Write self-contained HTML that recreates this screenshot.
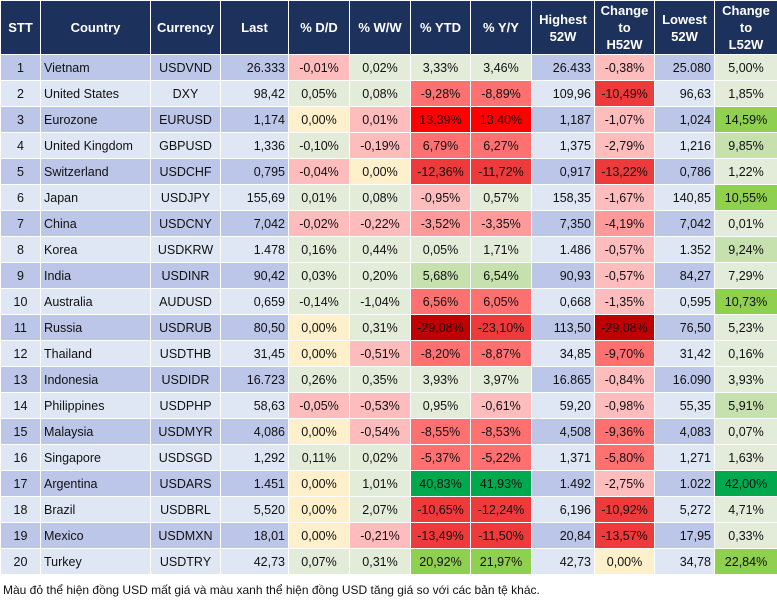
<!DOCTYPE html>
<html><head><meta charset="utf-8"><style>
body{margin:0;background:#fff;width:777px;height:602px;overflow:hidden;font-family:"Liberation Sans",Arial,sans-serif;}
table{border-collapse:collapse;table-layout:fixed;width:777px;position:absolute;left:0;top:0;}
td,th{border:1px solid #fff;font-size:12.5px;color:#111;padding:0 3px;height:25px;white-space:nowrap;overflow:hidden;}
th{background:#1c315c;color:#fff;font-weight:bold;height:53px;line-height:17px;text-align:center;font-size:13px;}
tr:nth-child(even) td{background:#bcc6e8;}
tr:nth-child(odd) td{background:#dfe7f5;}
td.c{text-align:center}td.r{text-align:right}td.l{text-align:left}
tr td.n{background:#e3ebd9 !important;text-align:center}
tr td.y{background:#fff0cc !important;text-align:center}
tr td.p{background:#ffbcbc !important;text-align:center}
tr td.p2{background:#ff9a9a !important;text-align:center}
tr td.r2{background:#ff7070 !important;text-align:center}
tr td.r3{background:#ee3a3a !important;text-align:center}
tr td.rb{background:#fe0000 !important;text-align:center}
tr td.rd{background:#c00000 !important;text-align:center}
tr td.g1{background:#c6e0ae !important;text-align:center}
tr td.g3{background:#8fd04e !important;text-align:center}
tr td.g4{background:#00a84e !important;text-align:center}
.foot{position:absolute;left:3px;top:583px;font-size:12px;color:#111;}
</style></head><body>
<table>
<colgroup><col style="width:40px"><col style="width:110px"><col style="width:70px"><col style="width:68px"><col style="width:61px"><col style="width:61px"><col style="width:60px"><col style="width:61px"><col style="width:63px"><col style="width:60px"><col style="width:60px"><col style="width:63px"></colgroup>
<tr><th>STT</th><th>Country</th><th>Currency</th><th>Last</th><th>% D/D</th><th>% W/W</th><th>% YTD</th><th>% Y/Y</th><th>Highest<br>52W</th><th>Change<br>to<br>H52W</th><th>Lowest<br>52W</th><th>Change<br>to<br>L52W</th></tr>
<tr><td class="c">1</td><td class="l">Vietnam</td><td class="c">USDVND</td><td class="r">26.333</td><td class="p">-0,01%</td><td class="n">0,02%</td><td class="n">3,33%</td><td class="n">3,46%</td><td class="r">26.433</td><td class="p">-0,38%</td><td class="r">25.080</td><td class="n">5,00%</td></tr>
<tr><td class="c">2</td><td class="l">United States</td><td class="c">DXY</td><td class="r">98,42</td><td class="n">0,05%</td><td class="n">0,08%</td><td class="r2">-9,28%</td><td class="r2">-8,89%</td><td class="r">109,96</td><td class="r3">-10,49%</td><td class="r">96,63</td><td class="n">1,85%</td></tr>
<tr><td class="c">3</td><td class="l">Eurozone</td><td class="c">EURUSD</td><td class="r">1,174</td><td class="y">0,00%</td><td class="p">0,01%</td><td class="rb">13,39%</td><td class="rb">13,40%</td><td class="r">1,187</td><td class="p">-1,07%</td><td class="r">1,024</td><td class="g3">14,59%</td></tr>
<tr><td class="c">4</td><td class="l">United Kingdom</td><td class="c">GBPUSD</td><td class="r">1,336</td><td class="n">-0,10%</td><td class="p">-0,19%</td><td class="r2">6,79%</td><td class="r2">6,27%</td><td class="r">1,375</td><td class="p">-2,79%</td><td class="r">1,216</td><td class="g1">9,85%</td></tr>
<tr><td class="c">5</td><td class="l">Switzerland</td><td class="c">USDCHF</td><td class="r">0,795</td><td class="p">-0,04%</td><td class="y">0,00%</td><td class="r3">-12,36%</td><td class="r3">-11,72%</td><td class="r">0,917</td><td class="r3">-13,22%</td><td class="r">0,786</td><td class="n">1,22%</td></tr>
<tr><td class="c">6</td><td class="l">Japan</td><td class="c">USDJPY</td><td class="r">155,69</td><td class="n">0,01%</td><td class="n">0,08%</td><td class="p">-0,95%</td><td class="n">0,57%</td><td class="r">158,35</td><td class="p">-1,67%</td><td class="r">140,85</td><td class="g3">10,55%</td></tr>
<tr><td class="c">7</td><td class="l">China</td><td class="c">USDCNY</td><td class="r">7,042</td><td class="p">-0,02%</td><td class="p">-0,22%</td><td class="p2">-3,52%</td><td class="p2">-3,35%</td><td class="r">7,350</td><td class="p2">-4,19%</td><td class="r">7,042</td><td class="n">0,01%</td></tr>
<tr><td class="c">8</td><td class="l">Korea</td><td class="c">USDKRW</td><td class="r">1.478</td><td class="n">0,16%</td><td class="n">0,44%</td><td class="n">0,05%</td><td class="n">1,71%</td><td class="r">1.486</td><td class="p">-0,57%</td><td class="r">1.352</td><td class="g1">9,24%</td></tr>
<tr><td class="c">9</td><td class="l">India</td><td class="c">USDINR</td><td class="r">90,42</td><td class="n">0,03%</td><td class="n">0,20%</td><td class="g1">5,68%</td><td class="g1">6,54%</td><td class="r">90,93</td><td class="p">-0,57%</td><td class="r">84,27</td><td class="n">7,29%</td></tr>
<tr><td class="c">10</td><td class="l">Australia</td><td class="c">AUDUSD</td><td class="r">0,659</td><td class="n">-0,14%</td><td class="n">-1,04%</td><td class="r2">6,56%</td><td class="r2">6,05%</td><td class="r">0,668</td><td class="p">-1,35%</td><td class="r">0,595</td><td class="g3">10,73%</td></tr>
<tr><td class="c">11</td><td class="l">Russia</td><td class="c">USDRUB</td><td class="r">80,50</td><td class="y">0,00%</td><td class="n">0,31%</td><td class="rd">-29,08%</td><td class="r3">-23,10%</td><td class="r">113,50</td><td class="rd">-29,08%</td><td class="r">76,50</td><td class="n">5,23%</td></tr>
<tr><td class="c">12</td><td class="l">Thailand</td><td class="c">USDTHB</td><td class="r">31,45</td><td class="y">0,00%</td><td class="p">-0,51%</td><td class="r2">-8,20%</td><td class="r2">-8,87%</td><td class="r">34,85</td><td class="r2">-9,70%</td><td class="r">31,42</td><td class="n">0,16%</td></tr>
<tr><td class="c">13</td><td class="l">Indonesia</td><td class="c">USDIDR</td><td class="r">16.723</td><td class="n">0,26%</td><td class="n">0,35%</td><td class="n">3,93%</td><td class="n">3,97%</td><td class="r">16.865</td><td class="p">-0,84%</td><td class="r">16.090</td><td class="n">3,93%</td></tr>
<tr><td class="c">14</td><td class="l">Philippines</td><td class="c">USDPHP</td><td class="r">58,63</td><td class="p">-0,05%</td><td class="p">-0,53%</td><td class="n">0,95%</td><td class="p">-0,61%</td><td class="r">59,20</td><td class="p">-0,98%</td><td class="r">55,35</td><td class="g1">5,91%</td></tr>
<tr><td class="c">15</td><td class="l">Malaysia</td><td class="c">USDMYR</td><td class="r">4,086</td><td class="y">0,00%</td><td class="p">-0,54%</td><td class="r2">-8,55%</td><td class="r2">-8,53%</td><td class="r">4,508</td><td class="r2">-9,36%</td><td class="r">4,083</td><td class="n">0,07%</td></tr>
<tr><td class="c">16</td><td class="l">Singapore</td><td class="c">USDSGD</td><td class="r">1,292</td><td class="n">0,11%</td><td class="n">0,02%</td><td class="r2">-5,37%</td><td class="r2">-5,22%</td><td class="r">1,371</td><td class="r2">-5,80%</td><td class="r">1,271</td><td class="n">1,63%</td></tr>
<tr><td class="c">17</td><td class="l">Argentina</td><td class="c">USDARS</td><td class="r">1.451</td><td class="y">0,00%</td><td class="n">1,01%</td><td class="g4">40,83%</td><td class="g4">41,93%</td><td class="r">1.492</td><td class="p">-2,75%</td><td class="r">1.022</td><td class="g4">42,00%</td></tr>
<tr><td class="c">18</td><td class="l">Brazil</td><td class="c">USDBRL</td><td class="r">5,520</td><td class="y">0,00%</td><td class="n">2,07%</td><td class="r3">-10,65%</td><td class="r3">-12,24%</td><td class="r">6,196</td><td class="r3">-10,92%</td><td class="r">5,272</td><td class="n">4,71%</td></tr>
<tr><td class="c">19</td><td class="l">Mexico</td><td class="c">USDMXN</td><td class="r">18,01</td><td class="y">0,00%</td><td class="p">-0,21%</td><td class="r3">-13,49%</td><td class="r3">-11,50%</td><td class="r">20,84</td><td class="r3">-13,57%</td><td class="r">17,95</td><td class="n">0,33%</td></tr>
<tr><td class="c">20</td><td class="l">Turkey</td><td class="c">USDTRY</td><td class="r">42,73</td><td class="n">0,07%</td><td class="n">0,31%</td><td class="g3">20,92%</td><td class="g3">21,97%</td><td class="r">42,73</td><td class="y">0,00%</td><td class="r">34,78</td><td class="g3">22,84%</td></tr>
</table>
<div class="foot">Màu đỏ thể hiện đồng USD mất giá và màu xanh thể hiện đồng USD tăng giá so với các bản tệ khác.</div>
</body></html>
